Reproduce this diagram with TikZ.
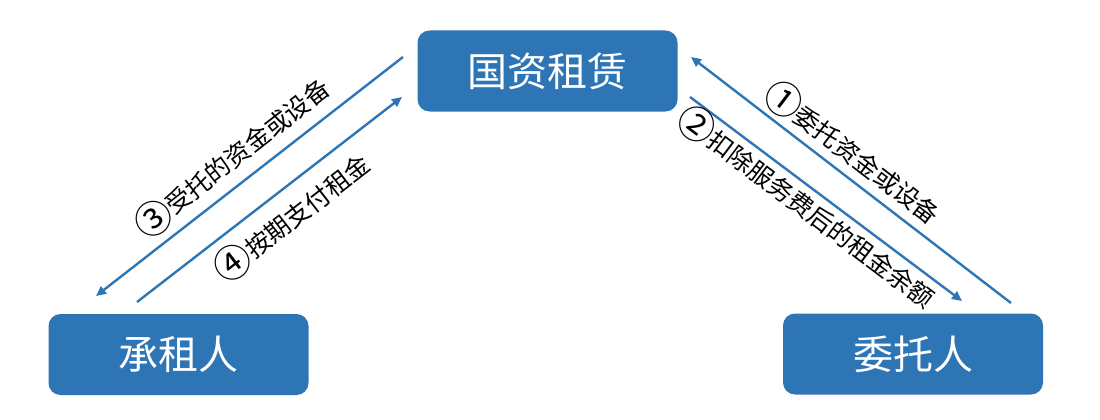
\documentclass[tikz,border=0pt]{standalone}
\usepackage{fontspec}
\setmainfont{Noto Sans CJK SC}
\usetikzlibrary{arrows.meta}
\definecolor{boxblue}{HTML}{2E75B6}
\newcommand{\circnum}[1]{\raisebox{-3.5pt}{\scalebox{1.5}{#1}}}
\tikzset{
  box/.style={fill=boxblue, rounded corners=12pt, minimum width=260pt, minimum height=81pt, text=white, font=\fontsize{40}{44}\selectfont, inner sep=0pt},
  flow/.style={draw=boxblue, line width=2.4pt, -{Triangle[length=10pt,width=9pt]}},
  lbl/.style={font=\fontsize{25}{28}\selectfont, text=black, inner sep=0pt}
}
\begin{document}
\begin{tikzpicture}[x=1pt,y=-1pt]
\useasboundingbox (0,0) rectangle (1100,420);
\node[box] (top) at (547.5,71) {国资租赁};
\node[box] (lessee) at (178.5,354.5) {承租人};
\node[box] (client) at (913,354) {委托人};
% free ends
\coordinate (a1) at (403,57);
\coordinate (a2) at (96,296);
\coordinate (b1) at (137,302);
\coordinate (b2) at (402,97);
\coordinate (c1) at (1011,303);
\coordinate (c2) at (691,57);
\coordinate (d1) at (690,97);
\coordinate (d2) at (962,301);
\draw[flow] (a1) -- (a2);
\draw[flow] (b1) -- (b2);
\draw[flow] (c1) -- (c2);
\draw[flow] (d1) -- (d2);
\node[lbl, rotate=37.9] (l3) at (232,157) {\circnum{③}受托的资金或设备};
\node[lbl, rotate=37.8] (l4) at (292,217) {\circnum{④}按期支付租金};
\node[lbl, rotate=-37.5] (l1) at (853,153) {\circnum{①}委托资金或设备};
\node[lbl, rotate=-37] (l2) at (807,207) {\circnum{②}扣除服务费后的租金余额};
\end{tikzpicture}
\end{document}
